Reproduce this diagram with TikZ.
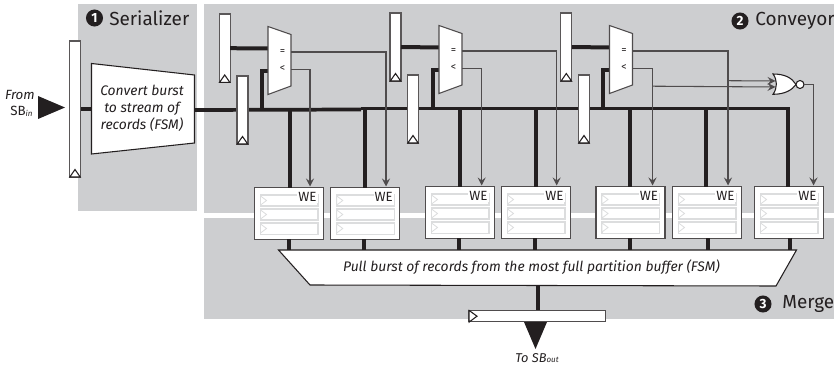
\documentclass[tikz,border=0pt]{standalone}
\usepackage{fontspec}
\setmainfont{Fira Sans}
\usetikzlibrary{arrows.meta}
\definecolor{panel}{HTML}{CDCED0}
\definecolor{ink}{HTML}{231F20}
\definecolor{barc}{HTML}{DCDDDE}
\tikzset{
  vregbox/.style={draw=ink!75,fill=white,line width=1pt,minimum width=8.25pt,inner sep=0pt,outer sep=0pt},
  clock/.style={draw=ink,fill=white,line width=.8pt,line join=miter},
  blockshape/.style={draw=ink,fill=white,line width=.8pt},
  muxshape/.style={draw=ink!80,fill=white,line width=.8pt},
  bus/.style={ink,line width=3pt},
  busb/.style={ink,line width=3pt,line join=miter},
  sig/.style={draw=ink!80,line width=.8pt,-{Stealth[length=6pt,width=6pt,inset=2.2pt]}},
  membox/.style={draw=ink!80,fill=white,line width=.8pt,minimum width=51.75pt,minimum height=39pt,inner sep=0pt,outer sep=0pt},
  bar/.style={draw=barc,line width=.8pt},
  barmark/.style={draw=barc,line width=.6pt},
  welabel/.style={fill=white,inner sep=.8pt,font=\fontsize{10}{10}\selectfont,text=ink},
  captext/.style={font=\fontsize{14.2}{16}\selectfont,text=ink,inner sep=0pt},
  badge/.style={circle,fill=ink,text=white,minimum size=12.8pt,inner sep=0pt,font=\fontsize{10}{10}\selectfont\bfseries},
  itext/.style={font=\fontsize{10.4}{12.8}\selectfont\itshape,text=ink,align=center,inner sep=0pt},
  cmp/.style={font=\fontsize{8}{8}\selectfont,text=ink,inner sep=0pt},
}
\newcommand{\vreg}[4]{% name, cx, cy, height
  \node[vregbox,minimum height=#4*.75pt] (#1) at (#2,#3) {};
  \draw[clock] (#2-5.2,#3+#4/2) -- (#2,#3+#4/2-7.5) -- (#2+5.2,#3+#4/2) -- cycle;
}
\newcommand{\mem}[3]{% name, cx, cy
  \node[membox] (#1) at (#2,#3) {};
  \foreach \yy/\hh in {-18.5/11,-4.5/11,9.5/11.5}{
    \draw[bar] (#2-28.5,#3+\yy) rectangle (#2+29,#3+\yy+\hh);
    \draw[barmark,fill=white] (#2-28.5,#3+\yy+1) -- (#2-22.5,#3+\yy+5.5) -- (#2-28.5,#3+\yy+10) -- cycle;
  }
  \node[welabel,minimum width=14.5pt,minimum height=9pt] (#1we) at (#2+18.5,#3-16.5) {WE};
}
\newcommand{\cmpmux}[2]{% x of left edge, top y
  \draw[muxshape] (#1,#2) -- (#1+23,#2+8) -- (#1+23,#2+59.5) -- (#1,#2+68) -- cycle;
  \node[cmp] at (#1+14.5,#2+25.5) {=};
  \node[cmp] at (#1+14.5,#2+42) {<};
}
\begin{document}
\begin{tikzpicture}[x=.75pt,y=-.75pt]
\useasboundingbox (0,0) rectangle (834,367);
% panels
\fill[panel] (78,4) rectangle (197,211);
\fill[panel] (204,4) rectangle (834,213);
\fill[panel] (204,218) rectangle (834,319);
% badges and captions
\node[badge] (b1) at (94.5,18) {1};
\node[captext,anchor=west] (t1) at (109,18) {Serializer};
\node[badge] (b2) at (740,21) {2};
\node[captext,anchor=west] (t2) at (755,21) {Conveyor};
\node[badge] (b3) at (763,304) {3};
\node[captext,anchor=west] (t3) at (782,304) {Merge};
% input
\node[itext,anchor=east,align=right,font=\fontsize{10}{12.5}\selectfont\itshape] (from) at (35,103.5) {From\\[-.5pt]{\upshape SB}{\fontsize{6}{6}\selectfont\raisebox{-.6pt}{in}}\,};
\fill[ink] (38,96) -- (65,107.5) -- (38,119) -- cycle;
% coordinates of the main wires
\coordinate (fsmout) at (194.5,110);
\coordinate (busA) at (361,109.5);
\coordinate (busB) at (361,108.5);
\coordinate (busE) at (788,108.5);
% FSM
\draw[bus] (79,108.7) -- (92,108.7);
\draw[blockshape] (91.5,63.5) -- (194.5,75) -- (194.5,143) -- (91.5,154) -- cycle;
\node[itext] (fsm) at (142,108.5) {Convert burst\\to stream of\\records (FSM)};
\vreg{r0}{75}{109}{136}
% bus
\draw[ink,line width=2.8pt] (fsmout) -- (busA);
\draw[ink,line width=2.8pt] (busB) -- (busE);
% memories
\mem{m1}{289}{213.5}
\mem{m2}{365.3}{213.5}
\mem{m3}{460}{212.5}
\mem{m4}{536}{212.5}
\mem{m5}{630.5}{212.5}
\mem{m6}{707}{212.5}
\mem{m7}{789}{212.5}
% drops
\draw[busb] (289.5,110) -- (289.5,187.5);
\draw[busb] (365,109) -- (365,187.5);
\draw[busb] (460,108.5) -- (460,186.5);
\draw[busb] (536,108.5) -- (536,186.5);
\draw[busb] (630,108.5) -- (630,186.5);
\draw[busb] (706,108.5) -- (706,186.5);
\draw[busb] (788,107.5) -- (788,186.5);
% stage registers and comparators
\vreg{ra1}{224.7}{48.2}{68.5}
\vreg{rb1}{242.5}{110}{68}
\vreg{ra2}{395.5}{47}{68}
\vreg{rb2}{413}{109}{68}
\vreg{ra3}{566.3}{47}{68}
\vreg{rb3}{584}{109}{68}
\draw[busb] (ra1.east) -- (268,48.5);
\draw[busb] (ra2.east) -- (439,47.5);
\draw[busb] (ra3.east) -- (609.3,47.5);
\draw[busb] (268,71.5) -- (262,71.5) -- (262,110);
\draw[busb] (439,70.5) -- (432.5,70.5) -- (432.5,109);
\draw[busb] (609.3,70.5) -- (603,70.5) -- (603,109);
\cmpmux{268}{26.5}
\cmpmux{439}{25.5}
\cmpmux{609.5}{25.5}
% comparator outputs
\coordinate (e1) at (291,52);
\coordinate (l1) at (291,69.5);
\coordinate (e2) at (461.8,51);
\coordinate (l2) at (461.8,68.5);
\coordinate (e3) at (632.5,51);
\coordinate (l3) at (632.5,68.5);
\draw[sig] (e1) -- (386,52) -- (386,186.5);
\draw[sig] (l1) -- (310,69.5) -- (310,186.5);
\draw[sig] (e2) -- (556.7,51) -- (556.7,185.5);
\draw[sig] (l2) -- (481.7,68.5) -- (481.7,185.5);
\draw[sig] (e3) -- (728,51) -- (728,185.5);
\draw[sig] (l3) -- (652.5,68.5) -- (652.5,185.5);
% NOR
\coordinate (norA) at (775.5,81);
\coordinate (norB) at (775.5,87);
\draw[sig] (728,80.7) -- (norA);
\draw[sig] (652.5,86.2) -- (norB);
\draw[blockshape,line width=.8pt] (773,74) .. controls (785,74) and (792,78) .. (796,84.5) .. controls (792,90) and (785,94.3) .. (773,94.3) .. controls (777.5,88) and (777.5,80) .. (773,74) -- cycle;
\node[circle,draw=ink,fill=white,line width=.8pt,minimum size=6pt,inner sep=0pt,outer sep=0pt] (bub) at (800,84.5) {};
\draw[sig] (bub.east) -- (813.5,84.5) -- (813.5,185.5);
% merge FSM
\draw[ink,line width=3pt] (289,239) -- (289,250);
\draw[ink,line width=3pt] (364,239) -- (364,250);
\draw[ink,line width=3pt] (459,238) -- (459,250);
\draw[ink,line width=3pt] (535,238) -- (535,250);
\draw[ink,line width=3pt] (629.5,238) -- (629.5,250);
\draw[ink,line width=3pt] (708,238) -- (708,250);
\draw[ink,line width=3pt] (790,238) -- (790,250);
\draw[blockshape] (278.5,250) -- (796.5,250) -- (776,286) -- (310,285) -- cycle;
\node[itext] (pull) at (531.5,267.5) {Pull burst of records from the most full partition buffer (FSM)};
\draw[ink,line width=3pt] (537.5,286) -- (537.5,311);
% output register
\node[draw=ink!80,fill=white,line width=.8pt,minimum width=102.4pt,minimum height=8.6pt,inner sep=0pt] (outreg) at (537.2,316.2) {};
\draw[draw=ink,fill=white,line width=.8pt] (469.2,310.5) -- (477,316.2) -- (469.2,322) -- cycle;
\fill[ink] (524,322) -- (547,322) -- (535.5,349) -- cycle;
\node[itext,font=\fontsize{9.6}{10}\selectfont\itshape] (to) at (537,358) {To SB{\fontsize{6}{6}\selectfont\raisebox{-.6pt}{out}}};
\end{tikzpicture}
\end{document}
